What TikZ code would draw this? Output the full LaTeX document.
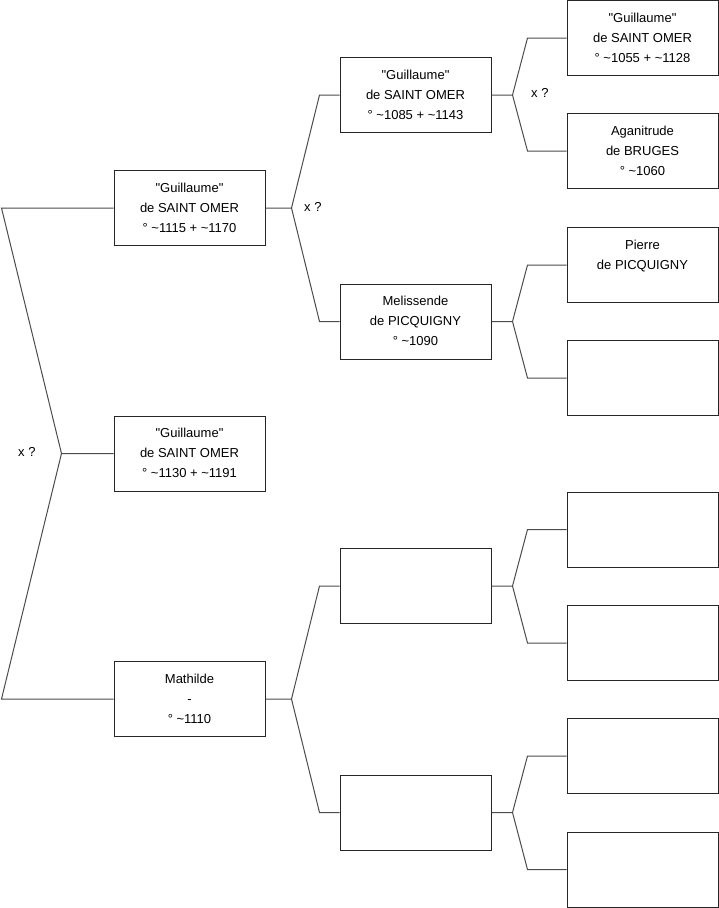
\documentclass[tikz,border=0pt]{standalone}
\usepackage{fontspec}
\newfontfamily\lfont{Liberation Sans}
\usetikzlibrary{calc}
\newcommand\threelines[3]{\strut#1\\\strut#2\\\strut#3}
\newcommand\tld{\textasciitilde}
\tikzset{
  person/.style={draw=black!85, line width=1pt, minimum width=151pt, minimum height=75pt,
    inner sep=0pt, align=center, font=\lfont\fontsize{13}{20}\selectfont},
  link/.style={draw=black!70, line width=1pt},
  unionlabel/.style={anchor=west, inner sep=0pt, font=\lfont\fontsize{13}{16}\selectfont}
}
\begin{document}
\begin{tikzpicture}[x=1pt,y=-1pt]
\useasboundingbox[fill=white] (0,0) rectangle (719,908);
% column 1
\node[person] (A) at (189.5,208) {\threelines{"Guillaume"}{de SAINT OMER}{°\ \tld1115 + \tld1170}};
\node[person] (B) at (189.5,453.5) {\threelines{"Guillaume"}{de SAINT OMER}{°\ \tld1130 + \tld1191}};
\node[person] (C) at (189.5,699) {\threelines{Mathilde}{-}{°\ \tld1110}};
% column 2
\node[person] (D) at (415.5,95) {\threelines{"Guillaume"}{de SAINT OMER}{°\ \tld1085 + \tld1143}};
\node[person] (E) at (415.5,321.5) {\threelines{Melissende}{de PICQUIGNY}{°\ \tld1090}};
\node[person] (F) at (415.5,586) {};
\node[person] (G) at (415.5,812.5) {};
% column 3
\node[person] (H) at (642.5,38) {\threelines{"Guillaume"}{de SAINT OMER}{°\ \tld1055 + \tld1128}};
\node[person] (I) at (642.5,151) {\threelines{Aganitrude}{de BRUGES}{°\ \tld1060}};
\node[person] (J) at (642.5,265) {\threelines{Pierre}{de PICQUIGNY}{}};
\node[person] (K) at (642.5,378) {};
\node[person] (L) at (642.5,529.5) {};
\node[person] (M) at (642.5,643) {};
\node[person] (N) at (642.5,756) {};
\node[person] (O) at (642.5,869.5) {};
% root fork
\coordinate (fR) at ($(B.west)+(-52,0)$);
\coordinate (tA) at ($(A.west)+(-112,0)$);
\coordinate (tC) at ($(C.west)+(-112,0)$);
\draw[link] (B.west) -- (fR) -- (tA) -- (A.west);
\draw[link] (fR) -- (tC) -- (C.west);
\node[unionlabel] (xR) at (18,452) {x ?};
% column 1 -> 2 forks
\coordinate (fA) at ($(A.east)+(26,0)$);
\draw[link] (A.east) -- (fA) -- ($(D.west)+(-20,0)$) -- (D.west);
\draw[link] (fA) -- ($(E.west)+(-20,0)$) -- (E.west);
\node[unionlabel] (xA) at (304,207) {x ?};
\coordinate (fC) at ($(C.east)+(26,0)$);
\draw[link] (C.east) -- (fC) -- ($(F.west)+(-20,0)$) -- (F.west);
\draw[link] (fC) -- ($(G.west)+(-20,0)$) -- (G.west);
% column 2 -> 3 forks
\coordinate (fD) at ($(D.east)+(21,0)$);
\draw[link] (D.east) -- (fD) -- ($(H.west)+(-39,0)$) -- (H.west);
\draw[link] (fD) -- ($(I.west)+(-39,0)$) -- (I.west);
\node[unionlabel] (xD) at (531,93) {x ?};
\coordinate (fE) at ($(E.east)+(21,0)$);
\draw[link] (E.east) -- (fE) -- ($(J.west)+(-39,0)$) -- (J.west);
\draw[link] (fE) -- ($(K.west)+(-39,0)$) -- (K.west);
\coordinate (fF) at ($(F.east)+(21,0)$);
\draw[link] (F.east) -- (fF) -- ($(L.west)+(-39,0)$) -- (L.west);
\draw[link] (fF) -- ($(M.west)+(-39,0)$) -- (M.west);
\coordinate (fG) at ($(G.east)+(21,0)$);
\draw[link] (G.east) -- (fG) -- ($(N.west)+(-39,0)$) -- (N.west);
\draw[link] (fG) -- ($(O.west)+(-39,0)$) -- (O.west);
\end{tikzpicture}
\end{document}
